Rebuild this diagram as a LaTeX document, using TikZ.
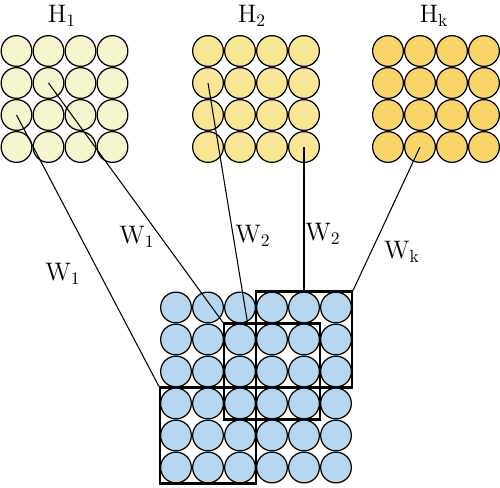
\documentclass[tikz,border=0pt]{standalone}
\usepackage{amsmath}
\usepackage{amssymb}
\usepackage{tikz}
\usetikzlibrary{calc}

\definecolor{mapone}{HTML}{F7F5D0}
\definecolor{maptwo}{HTML}{F8E796}
\definecolor{mapk}{HTML}{F8D66A}
\definecolor{inblue}{HTML}{B7D7F0}

\begin{document}
\begin{tikzpicture}[x=0.02cm,y=-0.02cm,
  cell/.style={circle,draw,line width=0.7pt,inner sep=0pt,minimum size=0.615cm},
  window/.style={draw,line width=1.2pt,inner sep=0pt,minimum size=1.92cm},
  lbl/.style={font=\fontsize{14}{16}\selectfont}]
\useasboundingbox (0,0) rectangle (500,487);
% Input grid
\foreach \r in {0,...,5}
  \foreach \c in {0,...,5}
    \node[cell,fill=inblue] (x-\r-\c) at (176+32*\c,307.5+32*\r) {};
% Feature maps
\foreach \r in {0,...,3}
  \foreach \c in {0,...,3} {
    \node[cell,fill=mapone] (a-\r-\c) at (16.5+32*\c,51+32*\r) {};
    \node[cell,fill=maptwo] (b-\r-\c) at (208+32*\c,51+32*\r) {};
    \node[cell,fill=mapk] (k-\r-\c) at (388+32*\c,51+32*\r) {};
  }
\node[lbl] (ha) at (62,16) {$\mathrm{H}_{\mathrm{1}}$};
\node[lbl] (hb) at (252,16) {$\mathrm{H}_{\mathrm{2}}$};
\node[lbl] (hk) at (434,16) {$\mathrm{H}_{\mathrm{k}}$};
% Windows
\node[window] (win1) at (x-4-1) {};
\node[window] (win2) at (x-2-3) {};
\node[window] (win3) at (x-1-4) {};
% Weights
\draw[line width=0.6pt] (a-2-0.center) -- (win1.north west);
\draw[line width=0.6pt] (a-1-1.center) -- (win2.north west);
\draw[line width=0.6pt] (b-1-0.center) -- ($(win2.north west)!0.25!(win2.north east)$);
\draw[line width=0.6pt] (b-3-3.center) -- (win3.north);
\draw[line width=0.6pt] (k-3-1.center) -- (win3.north east);
\node[lbl] (wa) at (63,274) {$\mathrm{W}_{\mathrm{1}}$};
\node[lbl] (wb) at (137,237) {$\mathrm{W}_{\mathrm{1}}$};
\node[lbl] (wc) at (253,236) {$\mathrm{W}_{\mathrm{2}}$};
\node[lbl] (wd) at (323,234) {$\mathrm{W}_{\mathrm{2}}$};
\node[lbl] (wk) at (402,252) {$\mathrm{W}_{\mathrm{k}}$};
\end{tikzpicture}
\end{document}
